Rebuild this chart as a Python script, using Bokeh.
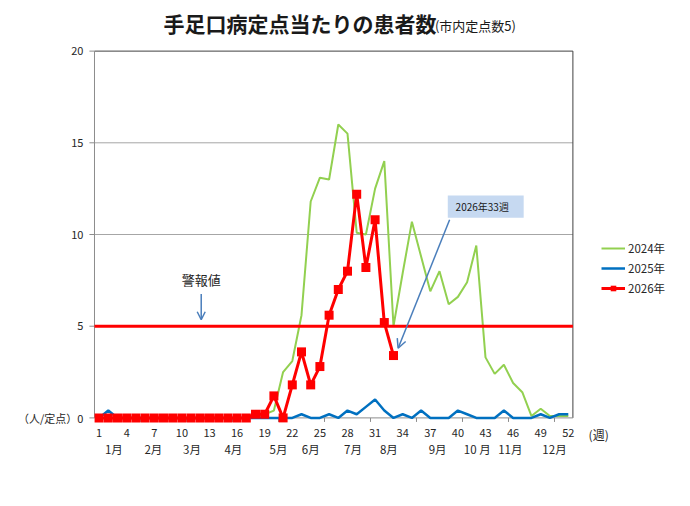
from bokeh.plotting import figure
from bokeh.models import (Range1d, Label, Arrow, OpenHead, BoxAnnotation, Legend,
                          LegendItem)
from bokeh.core.properties import value
from bokeh.embed import file_html
from bokeh.resources import INLINE

FONT = "Noto Sans CJK JP"

weeks = [1, 2, 3, 4, 5, 6, 7, 8, 9, 10, 11, 12, 13, 14, 15, 16, 17, 18, 19, 20,
         21, 22, 23, 24, 25, 26, 27, 28, 29, 30, 31, 32, 33, 34, 35, 36, 37, 38, 39, 40,
         41, 42, 43, 44, 45, 46, 47, 48, 49, 50, 51, 52]

cases_2024 = [0, 0, 0, 0, 0, 0, 0, 0, 0, 0, 0, 0, 0, 0, 0, 0, 0, 0, 0.2, 0.4,
              2.5, 3.1, 5.6, 11.8, 13.1, 13.0, 16.0, 15.5, 10.1, 10.0, 12.5, 14.0, 5.0, 7.9, 10.7, 8.8, 6.9, 8.0, 6.2, 6.6,
              7.4, 9.4, 3.3, 2.4, 2.9, 1.9, 1.4, 0.1, 0.5, 0.1, 0.1, 0.1]
cases_2025 = [0, 0.4, 0, 0, 0, 0, 0, 0, 0, 0, 0, 0, 0, 0, 0, 0, 0, 0, 0, 0,
              0, 0, 0.2, 0, 0, 0.2, 0, 0.4, 0.2, 0.6, 1.0, 0.4, 0, 0.2, 0, 0.4, 0, 0, 0, 0.4,
              0.2, 0, 0, 0, 0.4, 0, 0, 0, 0.2, 0, 0.2, 0.2]
cases_2026 = [0, 0, 0, 0, 0, 0, 0, 0, 0, 0, 0, 0, 0, 0, 0, 0, 0, 0.2, 0.2, 1.2,
              0, 1.8, 3.6, 1.8, 2.8, 5.6, 7.0, 8.0, 12.2, 8.2, 10.8, 5.2, 3.4]

alarm_level = 5

y_ticks = [0, 5, 10, 15, 20]
y_labels = ["（人/定点）0", "5", "10", "15", "20"]
week_ticks = [1, 4, 7, 10, 13, 16, 19, 22, 25, 28, 31, 34, 37, 40, 43, 46, 49, 52]
week_marks = [5.5, 10.5, 15.5, 20.5, 25.5, 30.5, 35.5, 40.5, 45.5, 50.5]
month_pos = [2.6, 6.9, 11.1, 15.6, 20.5, 24.0, 28.6, 32.5, 37.8, 42.1, 45.7, 50.5]
month_names = ["1月", "2月", "3月", "4月", "5月", "6月", "7月", "8月", "9月",
               "10 月", "11月", "12月"]

# 1週 = 9.2px, 1人 = 18.34px になるよう範囲を決める
p = figure(width=682, height=498, x_range=Range1d(-9.717, 64.413),
           y_range=Range1d(-4.395, 22.76), x_axis_type=None, y_axis_type=None,
           output_backend="svg", toolbar_location=None,
           min_border_left=0, min_border_right=0, min_border_top=0, min_border_bottom=0)
p.outline_line_color = None
p.xgrid.visible = False
p.ygrid.visible = False

x_lo = weeks[0] - 0.5
x_hi = weeks[-1] + 0.5
y_lo = y_ticks[0]
y_hi = y_ticks[-1]

# 目盛線と枠
grid_y = y_ticks[1:-1]
p.segment(x0=[x_lo] * len(grid_y), x1=[x_hi] * len(grid_y), y0=grid_y, y1=grid_y,
          line_color="#a6a6a6", line_width=1)
p.segment(x0=[x_lo, x_hi], x1=[x_hi, x_hi], y0=[y_hi, y_lo], y1=[y_hi, y_hi],
          line_color="#404040", line_width=1)
p.segment(x0=[x_lo, x_lo], x1=[x_lo, x_hi], y0=[y_lo, y_lo], y1=[y_hi, y_lo],
          line_color="#8c8c8c", line_width=1)
p.segment(x0=[x_lo - 0.55] * len(y_ticks), x1=[x_lo] * len(y_ticks), y0=y_ticks,
          y1=y_ticks, line_color="#8c8c8c", line_width=1)
p.segment(x0=week_marks, x1=week_marks, y0=[y_lo] * len(week_marks),
          y1=[y_lo - 0.22] * len(week_marks), line_color="#8c8c8c", line_width=1)

# 軸ラベル
p.text(x=[x_lo - 1.2] * len(y_ticks), y=y_ticks, text=y_labels, text_align="right",
       text_baseline="middle", text_font=value(FONT), text_font_size="11px",
       text_color="#262626")
p.text(x=week_ticks, y=[-0.85] * len(week_ticks), text=[str(w) for w in week_ticks],
       text_align="center", text_baseline="middle", text_font=value(FONT),
       text_font_size="11px", text_color="#262626")
p.text(x=month_pos, y=[-1.7] * len(month_pos), text=month_names, text_align="center",
       text_baseline="middle", text_font=value(FONT), text_font_size="11.5px",
       text_color="#262626")
p.add_layout(Label(x=55.3, y=-0.88, text="(週)", text_align="center",
                   text_baseline="middle", text_font=FONT, text_font_size="12px",
                   text_color="#262626"))

# データ
g = p.line(weeks, cases_2024, line_color="#92d050", line_width=2)
b = p.line(weeks, cases_2025, line_color="#0070c0", line_width=2.5)
p.segment(x0=[x_lo], x1=[x_hi], y0=[alarm_level], y1=[alarm_level],
          line_color="#ff0000", line_width=3)
r = p.line(weeks[:len(cases_2026)], cases_2026, line_color="#ff0000", line_width=3)
rm = p.scatter(weeks[:len(cases_2026)], cases_2026, marker="square", size=9,
               fill_color="#ff0000", line_color=None)

# 警報値 の注記
p.add_layout(Label(x=12.1, y=7.55, text="警報値", text_align="center",
                   text_baseline="middle", text_font=FONT, text_font_size="13px",
                   text_color="#262626"))
p.add_layout(Arrow(x_start=12.1, y_start=6.75, x_end=12.1, y_end=5.35,
                   line_color="#4a7ebb", line_width=1.5,
                   end=OpenHead(size=8, line_color="#4a7ebb", line_width=1.5)))

# 2026年33週 の吹き出し
p.add_layout(BoxAnnotation(left=38.9, right=47.15, bottom=10.92, top=12.13,
                           fill_color="#c6d9f1", fill_alpha=1, line_color=None))
p.add_layout(Label(x=39.75, y=11.52, text="2026年33週", text_baseline="middle",
                   text_font=FONT, text_font_size="10px", text_color="#1a1a1a"))
p.add_layout(Arrow(x_start=39.1, y_start=10.8, x_end=33.5, y_end=3.8,
                   line_color="#4a7ebb", line_width=1.5,
                   end=OpenHead(size=9, line_color="#4a7ebb", line_width=1.5)))

# タイトル
p.add_layout(Label(x=8.0, y=21.55, text="手足口病定点当たりの患者数", text_baseline="middle",
                   text_font=FONT, text_font_size="21px", text_font_style="bold",
                   text_color="#1a1a1a"))
p.add_layout(Label(x=37.5, y=21.4, text="(市内定点数5)", text_baseline="middle",
                   text_font=FONT, text_font_size="13px", text_color="#1a1a1a"))

legend = Legend(items=[LegendItem(label="2024年", renderers=[g]),
                       LegendItem(label="2025年", renderers=[b]),
                       LegendItem(label="2026年", renderers=[r, rm])],
                location=(601, 202), padding=0, margin=0, spacing=4,
                glyph_width=24, glyph_height=14, label_height=14, label_standoff=3,
                label_text_font=FONT, label_text_font_size="11.5px",
                label_text_color="#262626", border_line_color=None,
                background_fill_alpha=0)
p.add_layout(legend)

open("out.html", "w").write(file_html(p, INLINE))
